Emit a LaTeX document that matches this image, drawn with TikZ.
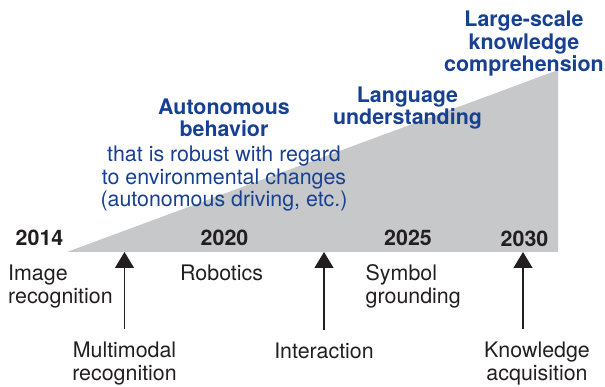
\documentclass[tikz,border=0pt]{standalone}
\usepackage{fontspec}
\setmainfont{TeX Gyre Heros}
\usetikzlibrary{arrows.meta,positioning}
\definecolor{wedgegray}{RGB}{199,200,202}
\definecolor{goalblue}{RGB}{24,64,145}
\definecolor{inkdark}{RGB}{35,31,32}
\newcommand{\labelfont}{\fontsize{21.4}{22.6}\selectfont}
\tikzset{
>={Triangle[width=19pt,length=16pt]},
  year/.style={
    font=\labelfont\bfseries,
    text=inkdark,
    inner sep=0pt,
    anchor=base},
  topic/.style={
    font=\labelfont,
    text=inkdark,
    inner sep=0pt,
    align=left,
    anchor=base west},
  driver/.style={
    font=\labelfont,
    text=inkdark,
    inner sep=0pt,
    align=center,
    anchor=base},
  goal/.style={
    font=\labelfont\bfseries,
    text=goalblue,
    inner sep=0pt,
    align=center,
    anchor=base},
  goalnote/.style={goal, font=\labelfont},
  push/.style={->, draw=inkdark, line width=1.2pt, shorten <=12.5pt},
}

\begin{document}
\begin{tikzpicture}[x=1pt,y=-1pt]
  \useasboundingbox (0,0) rectangle (605,387);
  % rising wedge
  \fill[wedgegray] (67,252) -- (558,70) -- (558,252) -- cycle;

     \node[year] (y2014) at (39.5,246) {2014};
     \node[year] (y2020) at (224.5,246) {2020};
     \node[year] (y2025) at (408,246) {2025};
     \node[year] (y2030) at (524.5,246.5) {2030};

     % multi-line nodes sit on their last line
     \node[topic] (image) at (8,303.3) {Image\\recognition};
     \node[topic] (robotics) at (180,280.5) {Robotics};
     \node[topic] (symbol) at (365.5,303.3) {Symbol\\grounding};

\node[goal] (autonomous) at (224,136.7) {Autonomous\\behavior};
\node[goalnote] (robust) at (224,207) {that is robust with regard\\to environmental changes\\(autonomous driving, etc.)};
\node[goal] (language) at (407.5,125) {Language\\understanding};
\node[goal] (largescale) at (524,71.7) {Large-scale\\knowledge\\comprehension};

     \node[driver] (multimodal) at (124.5,380) {Multimodal\\recognition};
     \node[driver] (interaction) at (324,358) {Interaction};
     \node[driver] (knowacq) at (537,380) {Knowledge\\acquisition};

\coordinate (multimodal tip) at (124.5,252);
\coordinate (interaction tip) at (324,252);
\coordinate (knowacq tip) at (523,252);

\draw[push] (multimodal.north) -- (multimodal tip);
\draw[push] (interaction.north) -- (interaction tip);
\draw[push] (knowacq.north -| knowacq tip) -- (knowacq tip);
  \end{tikzpicture}
\end{document}
